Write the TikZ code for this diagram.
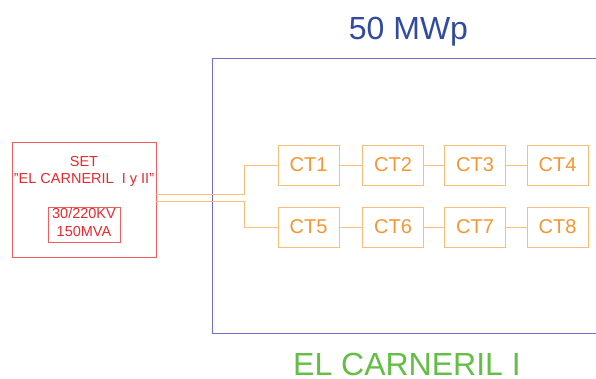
\documentclass[tikz,border=0pt]{standalone}
\usepackage{fontspec}
\setmainfont{Liberation Sans}
\definecolor{settext}{RGB}{235,40,45}
\definecolor{setline}{RGB}{240,95,95}
\definecolor{cttext}{RGB}{245,150,50}
\definecolor{ctline}{RGB}{250,190,120}
\definecolor{frameblue}{RGB}{110,110,210}
\definecolor{titleblue}{RGB}{50,75,160}
\definecolor{titlegreen}{RGB}{100,190,70}
\begin{document}
\begin{tikzpicture}[x=1pt,y=-1pt,
  ctbox/.style={draw=ctline,line width=0.9pt,minimum width=61pt,minimum height=40pt,inner sep=0pt,
    text=cttext,font=\fontsize{20}{24}\selectfont},
  ctlink/.style={draw=ctline,line width=0.9pt},
  setbox/.style={draw=setline,line width=0.9pt,inner sep=0pt},
  settxt/.style={text=settext,font=\fontsize{14.5}{17}\selectfont,anchor=base,inner sep=0pt},
  title/.style={font=\fontsize{32}{38}\selectfont,anchor=base,inner sep=0pt}]
\clip (0,0) rectangle (596,379);
\fill[white] (0,0) rectangle (596,379);
% frame
\draw[frameblue,line width=0.9pt] (212,58) rectangle (610,333);
\node[title,text=titleblue] (t1) at (408.5,40) {50 MWp};
\node[title,text=titlegreen] (t2) at (407,375) {EL CARNERIL I};
% SET
\node[setbox,minimum width=144pt,minimum height=115pt] (set) at (84,199.5) {};
\node[settxt] (s1) at (84,167) {SET};
\node[settxt] (s2) at (84,183.5) {"EL CARNERIL\ \ I y II"};
\node[setbox,minimum width=72pt,minimum height=35pt] (inner) at (84,224.5) {};
\node[settxt] (s3) at (84,218.5) {30/220KV};
\node[settxt] (s4) at (84,236.5) {150MVA};
% CT boxes
\node[ctbox] (ct1) at (308.5,165) {CT1};
\node[ctbox] (ct2) at (393,165) {CT2};
\node[ctbox] (ct3) at (475,165) {CT3};
\node[ctbox] (ct4) at (557.5,165) {CT4};
\node[ctbox] (ct5) at (308.5,227) {CT5};
\node[ctbox] (ct6) at (393,227) {CT6};
\node[ctbox] (ct7) at (475,227) {CT7};
\node[ctbox] (ct8) at (557.5,227) {CT8};
\draw[ctlink] (ct1) -- (ct2);
\draw[ctlink] (ct2) -- (ct3);
\draw[ctlink] (ct3) -- (ct4);
\draw[ctlink] (ct5) -- (ct6);
\draw[ctlink] (ct6) -- (ct7);
\draw[ctlink] (ct7) -- (ct8);
\draw[ctlink] ([yshift=5.5pt]set.east) -- ++(88,0) |- (ct1.west);
\draw[ctlink] ([yshift=-1.5pt]set.east) -- ++(88,0) |- (ct5.west);
\end{tikzpicture}
\end{document}
